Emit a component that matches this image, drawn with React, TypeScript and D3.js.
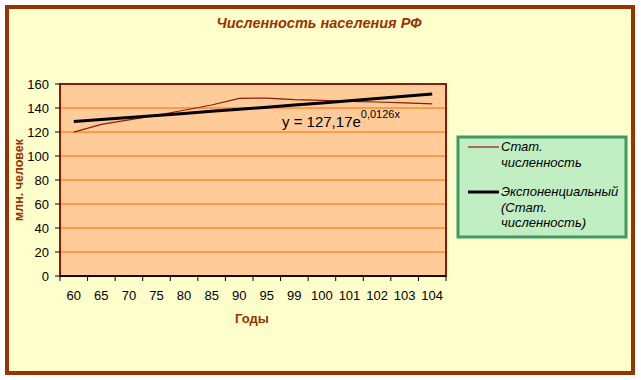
import React from "react";
import * as d3 from "d3";

const years = ["60", "65", "70", "75", "80", "85", "90", "95", "99", "100", "101", "102", "103", "104"];
const statValues = [119.9, 126.3, 130.1, 133.8, 138.1, 142.5, 148.0, 148.3, 146.9, 146.3, 145.6, 145.0, 144.2, 143.5];
const trendValues = [128.8, 130.4, 132.1, 133.7, 135.4, 137.2, 138.9, 140.7, 142.4, 144.2, 146.1, 147.9, 149.8, 151.7];
const yTicks = [0, 20, 40, 60, 80, 100, 120, 140, 160];

const title = "Численность населения РФ";
const yTitle = "млн. человек";
const xTitle = "Годы";
const legendStat = ["Стат.", "численность"];
const legendTrend = ["Экспоненциальный", "(Стат.", "численность)"];

export default function App() {
  const W = 641, H = 380;
  const left = 60, right = 446, top = 84, bottom = 276;
  const x = d3.scaleBand<string>().domain(years).range([left, right]);
  const y = d3.scaleLinear().domain([0, 160]).range([bottom, top]);
  const cx = (d: string) => (x(d) as number) + x.bandwidth() / 2;
  const line = d3.line<number>().x((_, i) => cx(years[i])).y((v) => y(v));
  const font = "'Liberation Sans', Arial, sans-serif";
  const brown = "#993300";

  return (
    <svg width={W} height={H} style={{ position: "absolute", left: 0, top: 0 }} fontFamily={font}>
      <rect x={0} y={0} width={W} height={H} fill="#ffffff" />
      <rect x={7} y={7} width={626} height={366} fill="#FFFFCC" stroke={brown} strokeWidth={4} />
      <text x={319} y={28} textAnchor="middle" fontSize={14.5} fontWeight="bold" fontStyle="italic" fill={brown}>{title}</text>

      <rect x={left} y={top} width={right - left} height={bottom - top} fill="#FFCC99" />
      {yTicks.filter((t) => t > 0 && t < 160).map((t) => (
        <line key={t} x1={left} x2={right} y1={y(t)} y2={y(t)} stroke="#FF6600" strokeWidth={1} />
      ))}
      <rect x={left} y={top} width={right - left} height={bottom - top} fill="none" stroke="#8B1A0A" strokeWidth={2} />

      {yTicks.map((t) => (
        <g key={t}>
          <line x1={left - 5} x2={left} y1={y(t)} y2={y(t)} stroke="#000" strokeWidth={1} />
          <text x={49} y={y(t) + 4.5} textAnchor="end" fontSize={13} fill="#000">{t}</text>
        </g>
      ))}
      <line x1={left} x2={right} y1={bottom} y2={bottom} stroke="#000" strokeWidth={1.5} />
      {years.map((yr) => (
        <line key={"t" + yr} x1={x(yr) as number} x2={x(yr) as number} y1={bottom} y2={bottom + 5} stroke="#000" />
      ))}
      <line x1={right} x2={right} y1={bottom} y2={bottom + 5} stroke="#000" />
      {years.map((yr) => (
        <text key={yr} x={cx(yr)} y={300} textAnchor="middle" fontSize={13} fill="#000">{yr}</text>
      ))}

      <path d={line(statValues) || ""} fill="none" stroke="#8B1A0A" strokeWidth={1.2} />
      <path d={line(trendValues) || ""} fill="none" stroke="#000" strokeWidth={3} />

      <text x={282} y={127} fontSize={15} fill="#000">
        y = 127,17e<tspan fontSize={11} dy={-9}>0,0126x</tspan>
      </text>

      <text x={252} y={323} textAnchor="middle" fontSize={13} fontWeight="bold" fill={brown}>{xTitle}</text>
      <text transform="translate(23,180) rotate(-90)" textAnchor="middle" fontSize={12.5} fontWeight="bold" fill={brown}>{yTitle}</text>

      <rect x={458} y={137} width={168} height={100} fill="#C2EEC4" stroke="#3C9C64" strokeWidth={3} />
      <line x1={468} x2={499} y1={147} y2={147} stroke="#8B1A0A" strokeWidth={1.2} />
      {legendStat.map((s, i) => (
        <text key={s} x={501} y={151 + i * 16} fontSize={13} fontStyle="italic" fill="#000">{s}</text>
      ))}
      <line x1={468} x2={499} y1={192} y2={192} stroke="#000" strokeWidth={3} />
      {legendTrend.map((s, i) => (
        <text key={s} x={501} y={196 + i * 15.5} fontSize={13} fontStyle="italic" fill="#000">{s}</text>
      ))}
    </svg>
  );
}
